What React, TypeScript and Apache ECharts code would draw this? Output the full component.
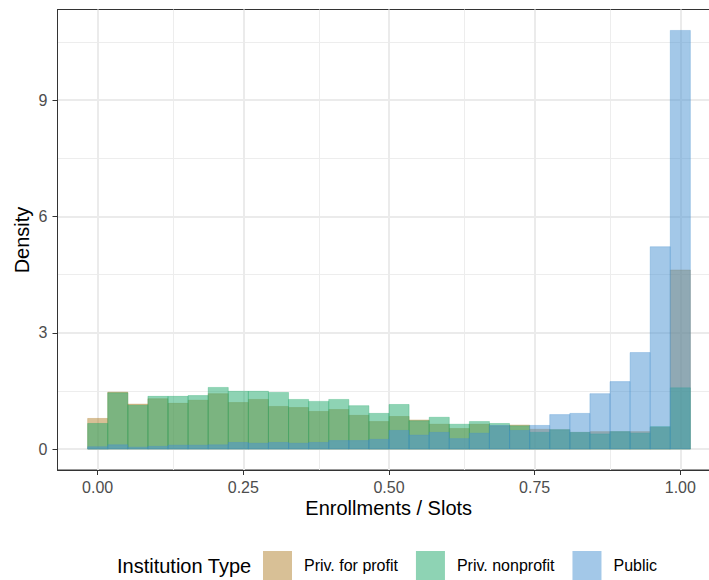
import React, { useEffect, useRef } from "react";
import * as echarts from "echarts";

// ---- data ----
const CATEGORIES = ["Priv. for profit", "Priv. nonprofit", "Public"];
const BIN_COUNT = 30;
const BIN_WIDTH = 1 / 29; // bins centred on k/29
const forProfit = [0.79, 1.47, 1.16, 1.30, 1.18, 1.26, 1.43, 1.20, 1.28, 1.10, 1.07, 0.97, 1.02, 0.87, 0.71, 0.84, 0.75, 0.64, 0.53, 0.64, 0.60, 0.62, 0.51, 0.50, 0.43, 0.45, 0.45, 0.45, 0.56, 4.62];
const nonprofit = [0.66, 1.45, 1.13, 1.36, 1.36, 1.38, 1.59, 1.49, 1.49, 1.46, 1.28, 1.23, 1.28, 1.12, 0.92, 1.15, 0.73, 0.82, 0.64, 0.71, 0.66, 0.60, 0.43, 0.50, 0.43, 0.39, 0.45, 0.41, 0.58, 1.58];
const publicInst = [0.06, 0.11, 0.05, 0.07, 0.10, 0.10, 0.11, 0.17, 0.15, 0.17, 0.15, 0.17, 0.22, 0.22, 0.25, 0.48, 0.36, 0.43, 0.27, 0.41, 0.61, 0.48, 0.61, 0.89, 0.92, 1.43, 1.74, 2.49, 5.22, 10.80];
const X_TICKS = [0, 0.25, 0.5, 0.75, 1.0];
const X_MINOR = [0.125, 0.375, 0.625, 0.875];
const Y_TICKS = [0, 3, 6, 9];
const Y_MINOR = [1.5, 4.5, 7.5, 10.5];

const COLORS = ["rgba(177,129,45,0.5)", "rgba(29,167,105,0.5)", "rgba(71,145,209,0.5)"];
const FONT = "'Liberation Sans', Arial, Helvetica, sans-serif";

function toBins(values: number[]) {
  return values.slice(0, BIN_COUNT).map((v, k) => [(k - 0.5) * BIN_WIDTH, (k + 0.5) * BIN_WIDTH, v]);
}

export default function App() {
  const ref = useRef<HTMLDivElement>(null);
  useEffect(() => {
    if (!ref.current) return;
    const chart = echarts.init(ref.current, null, { renderer: "svg" });
    const allMax = Math.max(...forProfit, ...nonprofit, ...publicInst);
    const xMin = -0.5 * BIN_WIDTH, xMax = (BIN_COUNT - 0.5) * BIN_WIDTH;
    const xPad = (xMax - xMin) * 0.05;
    const yPad = allMax * 0.05;

    const makeSeries = (name: string, vals: number[], color: string) => ({
      type: "custom",
      name,
      data: toBins(vals),
      encode: { x: [0, 1], y: 2 },
      itemStyle: { color },
      z: 3,
      renderItem: (_p: any, api: any) => {
        const a = api.coord([api.value(0), api.value(2)]);
        const b = api.coord([api.value(1), 0]);
        return {
          type: "rect",
          shape: { x: a[0], y: a[1], width: b[0] - a[0], height: b[1] - a[1] },
          style: { fill: color, stroke: color, lineWidth: 0.6 },
        };
      },
    });

    const major = { color: "#EBEBEB", width: 2, type: "solid" };
    const minor = { color: "#EDEDED", width: 1, type: "solid" };

    const option: any = {
      animation: false,
      textStyle: { fontFamily: FONT },
      grid: { left: 57.5, top: 9.5, right: 0.5, bottom: 110, show: true, borderColor: "#333333", borderWidth: 1, backgroundColor: "transparent" },
      xAxis: {
        type: "value",
        min: xMin - xPad,
        max: xMax + xPad,
        splitLine: { show: false },
        axisLine: { show: true, onZero: false, lineStyle: { color: "#333333", width: 1 } },
        axisTick: { show: true, length: 5, customValues: X_TICKS, lineStyle: { color: "#333333", width: 1 } },
        axisLabel: { customValues: X_TICKS, formatter: (v: number) => v.toFixed(2), color: "#4D4D4D", fontSize: 16, margin: 9, fontFamily: FONT },
      },
      yAxis: {
        type: "value",
        min: -yPad,
        max: allMax + yPad,
        splitLine: { show: false },
        axisLine: { show: true, onZero: false, lineStyle: { color: "#333333", width: 1 } },
        axisTick: { show: true, length: 5, customValues: Y_TICKS, lineStyle: { color: "#333333", width: 1 } },
        axisLabel: { customValues: Y_TICKS, formatter: (v: number) => String(v), color: "#4D4D4D", fontSize: 16, margin: 10, fontFamily: FONT },
      },
      legend: {
        data: CATEGORIES,
        left: 263,
        top: 551,
        padding: 0,
        itemWidth: 29,
        itemHeight: 29,
        itemGap: 18,
        icon: "rect",
        textStyle: { fontSize: 16, color: "#000000", fontFamily: FONT, padding: [0, 0, 0, 7] },
      },
      graphic: [
        { type: "text", x: 117, y: 566, style: { text: "Institution Type", fontSize: 20, fill: "#000", fontFamily: FONT, textVerticalAlign: "middle", textAlign: "left" } },
        { type: "text", x: 388.7, y: 508, style: { text: "Enrollments / Slots", fontSize: 20, fill: "#000", fontFamily: FONT, textVerticalAlign: "middle", textAlign: "center" } },
        { type: "text", x: 22, y: 240, rotation: Math.PI / 2, style: { text: "Density", fontSize: 20, fill: "#000", fontFamily: FONT, textVerticalAlign: "middle", textAlign: "center" } },
      ],
      series: [
        {
          type: "line",
          name: "grid",
          data: [],
          silent: true,
          markLine: {
            silent: true,
            z: 0,
            symbol: ["none", "none"],
            label: { show: false },
            data: [
              ...X_MINOR.map((v) => ({ xAxis: v, lineStyle: minor })),
              ...Y_MINOR.map((v) => ({ yAxis: v, lineStyle: minor })),
              ...X_TICKS.map((v) => ({ xAxis: v, lineStyle: major })),
              ...Y_TICKS.map((v) => ({ yAxis: v, lineStyle: major })),
            ],
          },
        },
        makeSeries(CATEGORIES[0], forProfit, COLORS[0]),
        makeSeries(CATEGORIES[1], nonprofit, COLORS[1]),
        makeSeries(CATEGORIES[2], publicInst, COLORS[2]),
      ],
    };
    chart.setOption(option);
    return () => chart.dispose();
  }, []);
  return <div ref={ref} style={{ position: "fixed", left: 0, top: 0, width: 721, height: 580, background: "#fff" }} />;
}
